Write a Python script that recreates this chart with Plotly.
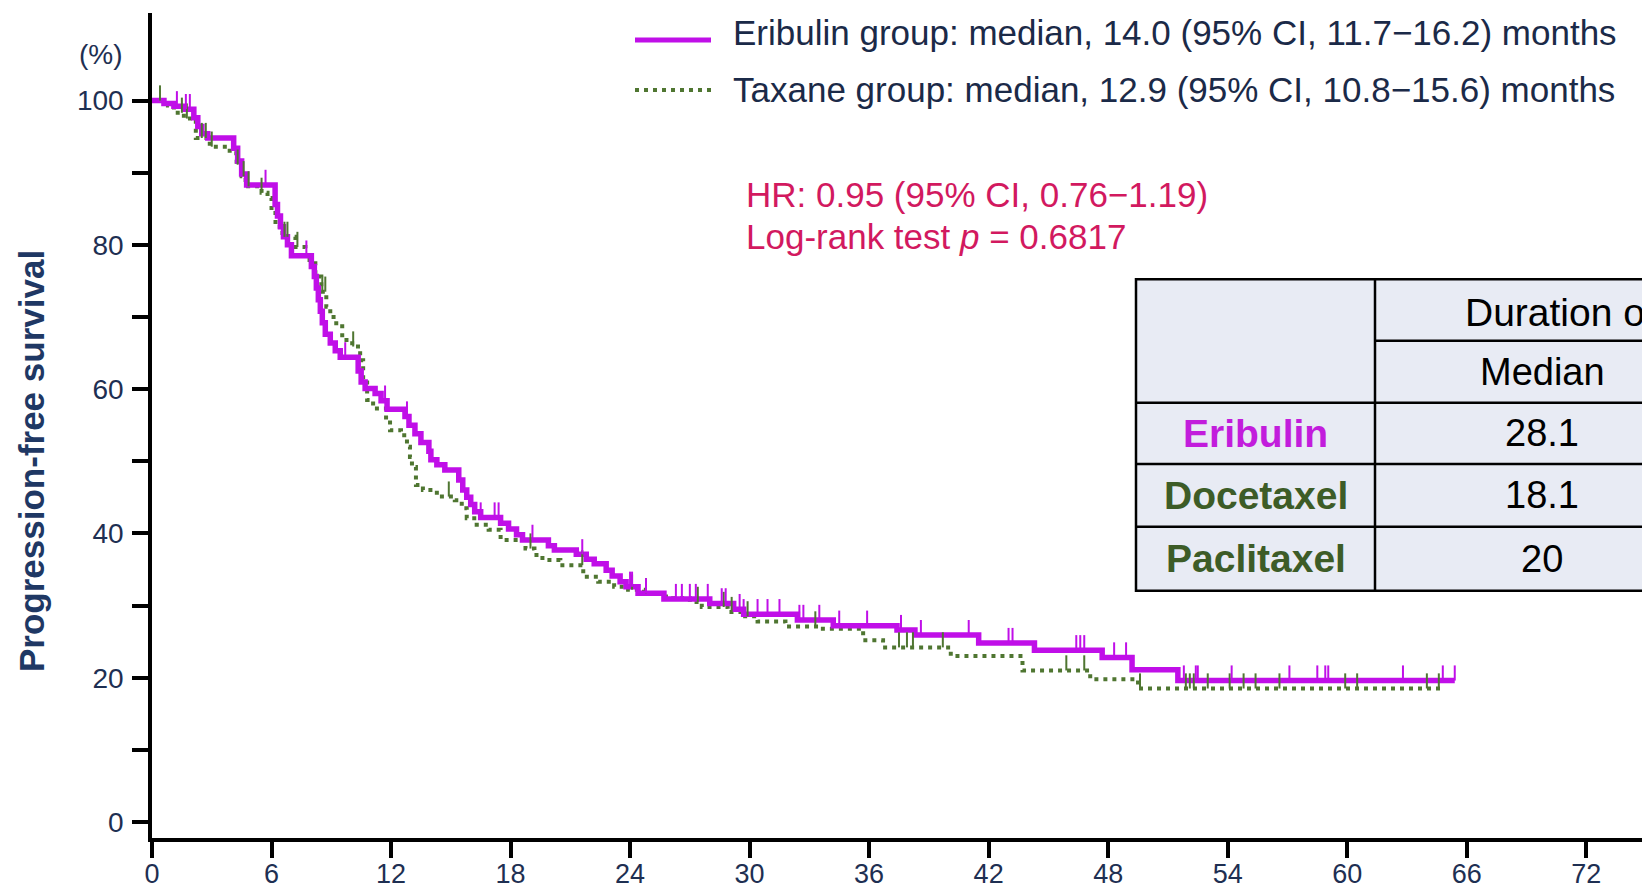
import plotly.graph_objects as go

# ---------------- data ----------------
# Eribulin arm: months at which the curve steps down, and survival (%) after each step
eri_time = [0.6, 1.1, 1.6, 2.1, 2.3, 2.5, 2.8, 4.1, 4.3, 4.5, 4.75, 6.18, 6.3, 6.45, 6.6, 6.8,
            7.0, 8.0, 8.15, 8.25, 8.35, 8.45, 8.55, 8.7, 8.95, 9.2, 9.45, 10.35, 10.5, 10.7,
            11.2, 11.5, 11.8, 12.7, 12.9, 13.2, 13.5, 13.9, 14.0, 14.3, 14.7, 15.4, 15.6, 15.8,
            16.0, 16.2, 16.5, 17.5, 17.9, 18.3, 18.6, 19.9, 20.2, 21.3, 21.8, 22.2, 22.8, 23.1,
            23.5, 23.8, 24.4, 25.7, 28.0, 29.2, 29.7, 32.4, 34.2, 37.4, 38.3, 41.5, 44.3, 47.7,
            49.2, 51.5]
eri_surv = [99.6, 99.2, 98.8, 97.6, 96.4, 95.4, 94.8, 93.4, 91.6, 89.8, 88.3, 85.6, 84.0, 82.5,
            81.1, 80.0, 78.5, 77.0, 75.6, 74.0, 72.4, 70.8, 69.2, 67.6, 66.4, 65.3, 64.4, 62.5,
            61.0, 60.1, 59.4, 58.4, 57.2, 56.2, 55.0, 53.8, 52.6, 51.4, 50.2, 49.5, 48.8, 47.4,
            46.0, 45.0, 44.0, 43.0, 42.2, 41.4, 40.6, 39.8, 39.1, 38.3, 37.7, 37.1, 36.4, 35.8,
            34.9, 34.1, 33.3, 32.6, 31.7, 30.9, 30.3, 29.5, 28.8, 28.0, 27.2, 26.6, 25.9, 24.8,
            23.8, 22.8, 21.1, 19.6]
eri_end = 65.4
eri_censor = [1.25, 1.7, 1.9, 5.7, 6.2, 7.75, 9.7, 11.7, 12.8, 16.5, 17.2, 17.4, 19.1, 21.6,
              24.0, 24.1, 24.8, 26.3, 26.6, 27.0, 27.3, 27.9, 28.6, 28.8, 29.5, 29.7, 30.4,
              30.9, 31.5, 32.5, 32.7, 33.5, 34.5, 35.9, 37.6, 38.6, 41.0, 43.0, 43.2, 46.4,
              46.6, 46.8, 48.3, 48.9, 51.8, 52.4, 52.5, 54.2, 57.1, 58.5, 58.9, 59.05, 62.8,
              64.8, 65.4]

# Taxane arm
tax_time = [0.8, 1.1, 1.6, 2.2, 2.9, 3.9, 4.25, 4.5, 4.7, 5.5, 5.8, 6.0, 6.2, 6.55, 7.2, 7.7,
            8.2, 8.5, 8.75, 8.95, 9.25, 9.55, 10.05, 10.45, 10.6, 10.8, 11.1, 11.75, 11.95,
            12.5, 12.8, 12.95, 13.05, 13.25, 13.6, 14.3, 15.2, 15.55, 15.8, 16.3, 16.9, 17.5,
            18.75, 19.2, 19.6, 20.5, 21.65, 22.4, 23.2, 23.9, 24.7, 25.8, 27.0, 27.6, 28.9,
            29.6, 30.4, 31.8, 33.5, 35.7, 36.7, 40.1, 43.7, 47.1, 49.5]
tax_surv = [99.3, 98.3, 97.5, 94.8, 93.6, 92.7, 91.1, 89.5, 88.1, 87.2, 86.5, 84.4, 82.5, 81.1,
            79.7, 77.9, 75.6, 73.5, 71.4, 70.0, 68.7, 66.8, 65.9, 64.0, 61.3, 58.5, 57.3, 55.7,
            54.3, 53.6, 52.0, 50.6, 49.2, 46.7, 46.0, 45.1, 44.6, 43.5, 42.1, 41.2, 40.5, 39.1,
            37.9, 37.0, 36.3, 35.6, 34.0, 33.3, 32.6, 32.2, 31.7, 31.0, 30.5, 29.8, 29.1, 28.5,
            27.8, 27.1, 26.8, 25.2, 24.2, 23.0, 21.0, 19.8, 18.5]
tax_end = 64.7
tax_censor = [0.4, 1.5, 1.75, 2.5, 2.7, 3.0, 4.3, 4.6, 4.85, 5.5, 6.65, 6.8, 7.3, 8.55, 8.7,
              10.1, 14.9, 19.0, 21.6, 24.1, 24.8, 27.4, 28.7, 29.1, 29.9, 33.3, 37.5, 37.9,
              38.2, 39.7, 45.9, 46.8, 49.6, 51.9, 52.1, 52.3, 53.0, 54.1, 54.8, 55.4, 56.6,
              59.9, 60.5, 64.0, 64.6]

x_ticks = list(range(0, 73, 6))
y_ticks = list(range(0, 101, 10))
y_labels = [str(v) if v % 20 == 0 else "" for v in y_ticks]

legend_labels = ["Eribulin group: median, 14.0 (95% CI, 11.7\u221216.2) months",
                 "Taxane group: median, 12.9 (95% CI, 10.8\u221215.6) months"]
stat_lines = ["HR: 0.95 (95% CI, 0.76\u22121.19)", "Log-rank test <i>p</i> = 0.6817"]

table_header = ["Duration of treatment", "Median"]
table_groups = ["Eribulin", "Docetaxel", "Paclitaxel"]
table_medians = ["28.1", "18.1", "20"]

# ---------------- styling ----------------
FONT = "Liberation Sans, Arial, Helvetica, sans-serif"
PURPLE = "#c00fe8"
PURPLE_TXT = "#c21ddc"
GREEN = "#4f7631"
GREEN_TXT = "#3d5c27"
NAVY = "#1e2f52"
TITLE_NAVY = "#1f3864"
CRIMSON = "#d2195f"
TABLE_BG = "#e8ebf4"

W, H = 1642, 890
ML, MR, MT, MB = 152, 0, 13, 52
PW, PH = W - ML - MR, H - MT - MB


def px(x):
    return (x - ML) / PW


def py(y):
    return (H - MB - y) / PH


def surv_at(times, survs, t):
    s = 100.0
    for tt, ss in zip(times, survs):
        if tt <= t:
            s = ss
    return s


def censor_segments(times, survs, cens, h=2.1):
    xs, ys = [], []
    for c in cens:
        s = surv_at(times, survs, c)
        xs += [c, c, None]
        ys += [s, s + h, None]
    return xs, ys


fig = go.Figure()

fig.add_trace(go.Scatter(
    x=[0] + tax_time + [tax_end], y=[100] + tax_surv + [tax_surv[-1]],
    mode="lines", line=dict(shape="hv", color=GREEN, width=4, dash="4px,5px"),
    hoverinfo="skip", showlegend=False))
fig.add_trace(go.Scatter(
    x=[0] + eri_time + [eri_end], y=[100] + eri_surv + [eri_surv[-1]],
    mode="lines", line=dict(shape="hv", color=PURPLE, width=5.5),
    hoverinfo="skip", showlegend=False))

cx, cy = censor_segments(tax_time, tax_surv, tax_censor)
fig.add_trace(go.Scatter(x=cx, y=cy, mode="lines", line=dict(color=GREEN, width=2),
                         hoverinfo="skip", showlegend=False))
cx, cy = censor_segments(eri_time, eri_surv, eri_censor)
fig.add_trace(go.Scatter(x=cx, y=cy, mode="lines", line=dict(color=PURPLE, width=2),
                         hoverinfo="skip", showlegend=False))

axis_common = dict(showline=True, linecolor="black", linewidth=3.5, ticks="outside",
                   ticklen=16, tickwidth=3.5, tickcolor="black", showgrid=False,
                   zeroline=False, automargin=False)

fig.update_xaxes(range=[0, 74.8], tickvals=x_ticks, ticklabelstandoff=-7,
                 tickfont=dict(family=FONT, size=27, color=NAVY), **axis_common)
fig.update_yaxes(range=[-2.22, 112.13], tickvals=y_ticks, ticktext=y_labels,
                 ticklabelstandoff=3, tickfont=dict(family=FONT, size=28, color=NAVY),
                 **axis_common)

shapes = []
annotations = []

# axis title and unit
annotations.append(dict(x=px(32), y=py(461), xref="paper", yref="paper", text="<b>Progression-free survival</b>",
                        textangle=-90, showarrow=False, xanchor="center", yanchor="middle",
                        font=dict(family=FONT, size=35, color=TITLE_NAVY)))
annotations.append(dict(x=px(101), y=py(55), xref="paper", yref="paper", text="(%)",
                        showarrow=False, xanchor="center", yanchor="middle",
                        font=dict(family=FONT, size=28, color=NAVY)))

# legend
shapes.append(dict(type="line", xref="paper", yref="paper", x0=px(635), x1=px(711),
                   y0=py(40), y1=py(40), line=dict(color=PURPLE, width=5)))
shapes.append(dict(type="line", xref="paper", yref="paper", x0=px(635), x1=px(711),
                   y0=py(90), y1=py(90), line=dict(color=GREEN, width=4, dash="4px,5px")))
for lbl, yc in zip(legend_labels, [32, 89]):
    annotations.append(dict(x=px(731), y=py(yc), xref="paper", yref="paper", text=lbl,
                            showarrow=False, xanchor="left", yanchor="middle",
                            font=dict(family=FONT, size=35, color="#1b2a48")))

# statistics
for txt, yc in zip(stat_lines, [195, 237]):
    annotations.append(dict(x=px(744), y=py(yc), xref="paper", yref="paper", text=txt,
                            showarrow=False, xanchor="left", yanchor="middle",
                            font=dict(family=FONT, size=35, color=CRIMSON)))

# table
T_L, T_R, T_T, T_B = 1136, 1720, 279.3, 590.7
COL = 1375
ROWS = [340.7, 402.7, 464.0, 526.7]
shapes.append(dict(type="rect", xref="paper", yref="paper", x0=px(T_L), x1=px(T_R),
                   y0=py(T_B), y1=py(T_T), fillcolor=TABLE_BG, line=dict(color="black", width=2.5),
                   layer="above"))
shapes.append(dict(type="line", xref="paper", yref="paper", x0=px(COL), x1=px(COL),
                   y0=py(T_T), y1=py(T_B), line=dict(color="black", width=2.5)))
shapes.append(dict(type="line", xref="paper", yref="paper", x0=px(COL), x1=px(T_R),
                   y0=py(ROWS[0]), y1=py(ROWS[0]), line=dict(color="black", width=2.5)))
for r in ROWS[1:]:
    shapes.append(dict(type="line", xref="paper", yref="paper", x0=px(T_L), x1=px(T_R),
                       y0=py(r), y1=py(r), line=dict(color="black", width=2.5)))

annotations.append(dict(x=px(1463), y=py(312), xref="paper", yref="paper", text=table_header[0],
                        showarrow=False, xanchor="left", yanchor="middle",
                        font=dict(family=FONT, size=39, color="black")))
annotations.append(dict(x=px(1542), y=py(371.7), xref="paper", yref="paper", text=table_header[1],
                        showarrow=False, xanchor="center", yanchor="middle",
                        font=dict(family=FONT, size=38, color="black")))
row_centres = [433.3, 495.3, 558.7]
row_colours = [PURPLE_TXT, GREEN_TXT, GREEN_TXT]
for name, med, yc, colr in zip(table_groups, table_medians, row_centres, row_colours):
    annotations.append(dict(x=px(1255.5), y=py(yc), xref="paper", yref="paper", text=f"<b>{name}</b>",
                            showarrow=False, xanchor="center", yanchor="middle",
                            font=dict(family=FONT, size=39, color=colr)))
    annotations.append(dict(x=px(1542), y=py(yc), xref="paper", yref="paper", text=med,
                            showarrow=False, xanchor="center", yanchor="middle",
                            font=dict(family=FONT, size=38, color="black")))

fig.update_layout(width=W, height=H, margin=dict(l=ML, r=MR, t=MT, b=MB),
                  paper_bgcolor="white", plot_bgcolor="white",
                  shapes=shapes, annotations=annotations, showlegend=False)

fig.write_html("out.html")
